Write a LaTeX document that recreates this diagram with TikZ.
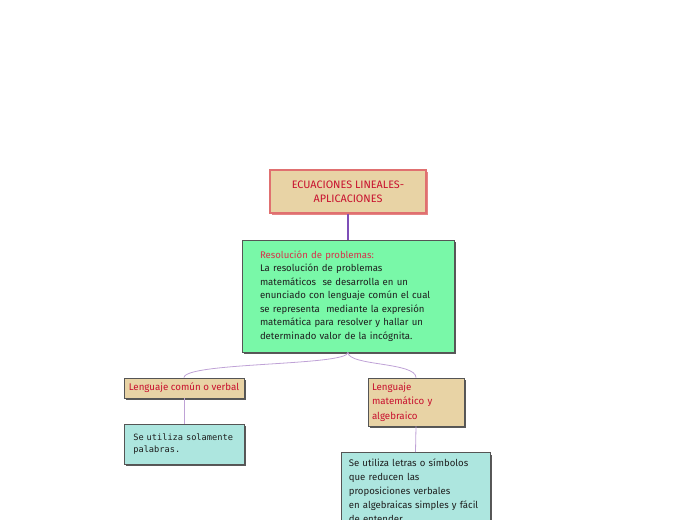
\documentclass[tikz,border=0pt]{standalone}
\usepackage{fontspec}
\setmainfont{Fira Sans}
\newfontfamily\monof{DejaVu Sans Mono}
\usetikzlibrary{shadows}
\definecolor{tanfill}{HTML}{E8D3A5}
\definecolor{greenfill}{HTML}{79F8A8}
\definecolor{tealfill}{HTML}{ADE6DF}
\definecolor{redtext}{HTML}{C8102E}
\definecolor{redlabel}{HTML}{D8304A}
\definecolor{pinkborder}{HTML}{E07070}
\definecolor{darkborder}{HTML}{555555}
\definecolor{darkpurple}{HTML}{7E4FB8}
\definecolor{lightpurple}{HTML}{BFA2D6}
\definecolor{bodytext}{HTML}{1E1E1E}
\tikzset{
  x=0.75pt, y=-0.75pt,
  box/.style={draw=darkborder, line width=0.6pt, inner sep=0pt,
    drop shadow={shadow xshift=1.8pt, shadow yshift=-1.8pt, fill=black!65, opacity=1}},
  titlebox/.style={draw=pinkborder, line width=0.8pt, fill=tanfill, inner sep=0pt,
    drop shadow={shadow xshift=1.8pt, shadow yshift=-1.8pt, fill=pinkborder!85, opacity=1},
    text=redtext, align=center, font=\fontsize{8.1}{10.2}\selectfont},
  tanbox/.style={box, fill=tanfill, text=redtext, font=\fontsize{7.3}{10.8}\selectfont},
  mainlink/.style={draw=darkpurple, line width=1.1pt},
  sublink/.style={draw=lightpurple, line width=0.6pt}
}
\begin{document}
\begin{tikzpicture}
\useasboundingbox (0,0) rectangle (696,520);
\clip (0,0) rectangle (696,520);
\node[titlebox, minimum width=117pt, minimum height=32.25pt] (title) at (348,191.5)
  {ECUACIONES LINEALES-\\APLICACIONES};
\node[box, fill=greenfill, minimum width=159pt, minimum height=84pt, text width=132pt,
  align=left, inner xsep=13.5pt, text=bodytext, font=\fontsize{7.2}{10.1}\selectfont]
  (res) at (348,296)
  {{\color{redlabel}Resolución de problemas:}\\
   La resolución de problemas\\
   matemáticos\ \ se desarrolla en un\\
   enunciado con lenguaje común el cual\\
   se representa\ \ mediante la expresión\\
   matemática para resolver y hallar un\\
   determinado valor de la incógnita.};
\node[tanbox, minimum width=90pt, minimum height=15pt] (lcv) at (184,388)
  {Lenguaje común o verbal};
\node[tanbox, minimum width=72pt, minimum height=36pt, text width=66pt, align=left,
  inner xsep=3pt] (lma) at (416,402)
  {Lenguaje\\matemático y\\algebraico};
\node[box, fill=tealfill, minimum width=90pt, minimum height=30pt, text width=76pt,
  align=left, inner xsep=7pt, text=bodytext, font=\monof\fontsize{6.5}{9.6}\selectfont]
  (pal) at (184,444)
  {Se utiliza solamente\\palabras.};
\node[box, fill=tealfill, anchor=north, minimum width=111.75pt, text width=100pt,
  align=left, inner xsep=5.85pt, inner ysep=5pt, text=bodytext,
  font=\fontsize{7.2}{10.5}\selectfont] (alg) at (415.5,452)
  {Se utiliza letras o símbolos\\
   que reducen las\\
   proposiciones verbales\\
   en algebraicas simples y fácil\\
   de entender.};
\draw[mainlink] (title.south) -- (res.north);
\draw[sublink] (res.south) .. controls (348,366) and (185,362) .. (lcv.north);
\draw[sublink] (res.south) .. controls (348,366) and (416,362) .. (lma.north);
\draw[sublink] (lcv.south) -- (pal.north);
\draw[sublink] (lma.south) -- (alg.north);
\end{tikzpicture}
\end{document}
